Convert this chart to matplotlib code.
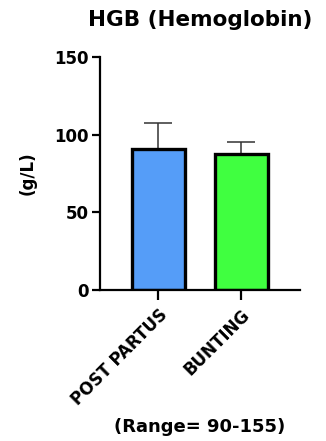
import matplotlib.pyplot as plt

# bar heights and upper SD
groups = ["POST PARTUS", "BUNTING"]
means = [90.5, 87.5]
sd_upper = [17.0, 7.5]
colors = ["#559DF8", "#40FF40"]

plt.rcParams['font.family'] = ['DejaVu Sans']
plt.rcParams['font.weight'] = 'bold'
plt.rcParams['axes.labelweight'] = 'bold'

fig = plt.figure(figsize=(3.26, 4.41), dpi=100)
ax = fig.add_axes([0.307, 0.342, 0.613, 0.529])

x = list(range(len(groups)))
ax.bar(x, means, width=0.64, color=colors, edgecolor="black", linewidth=2.4, zorder=2)
ax.errorbar(x, means, yerr=[[0] * len(groups), sd_upper], fmt="none",
            ecolor="#333333", elinewidth=1.1, capsize=10, capthick=1.1, zorder=1)

ax.set_xlim(-0.70, 1.71)
ax.set_ylim(0, 150)
ax.set_yticks([0, 50, 100, 150])
ax.set_xticks(x)
ax.set_xticklabels(groups, rotation=45, ha="right", rotation_mode="anchor", fontsize=12)

for s in ["top", "right"]:
    ax.spines[s].set_visible(False)
for s in ["left", "bottom"]:
    ax.spines[s].set_linewidth(1.6)

ax.tick_params(axis="y", length=6, width=1.6, labelsize=12, pad=2)
ax.tick_params(axis="x", length=7, width=1.6, pad=4)

ax.set_ylabel("(g/L)", fontsize=12, labelpad=13)
ax.set_xlabel("(Range= 90-155)", fontsize=13, labelpad=7)
ax.set_title("HGB (Hemoglobin)", fontsize=15.5, fontweight="bold", pad=22, x=0.5)

fig.savefig("out.png", dpi=100)
